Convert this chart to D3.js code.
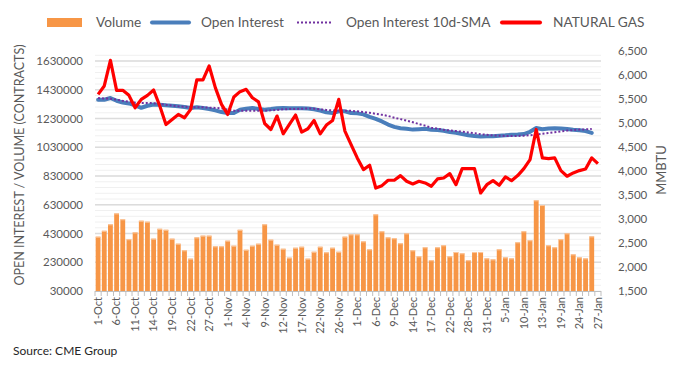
<!DOCTYPE html>
<html>
<head>
<meta charset="utf-8">
<script src="https://cdn.jsdelivr.net/npm/d3@7"></script>
<style>
  body { margin: 0; background: #fff; }
  text { font-family: Lato, "Open Sans", sans-serif; fill: #595959; }
</style>
</head>
<body>
<svg id="chart" width="677" height="370"></svg>
<script>
// trading days shown on the category axis
const dates = ['1-Oct','4-Oct','5-Oct','6-Oct','7-Oct','8-Oct','11-Oct','12-Oct','13-Oct','14-Oct','15-Oct',
  '18-Oct','19-Oct','20-Oct','21-Oct','22-Oct','25-Oct','26-Oct','27-Oct','28-Oct','29-Oct',
  '1-Nov','2-Nov','3-Nov','4-Nov','5-Nov','8-Nov','9-Nov','10-Nov','11-Nov','12-Nov',
  '15-Nov','16-Nov','17-Nov','18-Nov','19-Nov','22-Nov','23-Nov','24-Nov','26-Nov','29-Nov','30-Nov',
  '1-Dec','2-Dec','3-Dec','6-Dec','7-Dec','8-Dec','9-Dec','10-Dec','13-Dec','14-Dec','15-Dec','16-Dec','17-Dec',
  '20-Dec','21-Dec','22-Dec','23-Dec','27-Dec','28-Dec','29-Dec','30-Dec','31-Dec',
  '3-Jan','4-Jan','5-Jan','6-Jan','7-Jan','10-Jan','11-Jan','12-Jan','13-Jan','14-Jan',
  '18-Jan','19-Jan','20-Jan','21-Jan','24-Jan','25-Jan','26-Jan','27-Jan'];

const volume = [408000,449000,494000,570000,529000,390000,438000,519000,512000,394000,463000,
  456000,394000,359000,313000,255000,403000,415000,415000,341000,341000,
  380000,345000,456000,317000,345000,359000,494000,387000,352000,324000,
  262000,331000,338000,255000,303000,338000,299000,331000,303000,408000,424000,
  424000,375000,320000,563000,445000,403000,397000,362000,431000,313000,271000,334000,244000,
  334000,348000,271000,301000,292000,244000,301000,301000,257000,
  250000,320000,264000,257000,369000,445000,383000,661000,628000,348000,
  334000,390000,431000,285000,264000,257000,410000,null];

const openInterest = [1361000,1361000,1373000,1354000,1342000,1335000,1322000,1305000,1319000,1328000,1326000,
  1322000,1319000,1315000,1310000,1303000,1308000,1303000,1296000,1287000,1275000,
  1268000,1268000,1291000,1298000,1303000,1296000,1291000,1296000,1302000,1303000,
  1301000,1301000,1301000,1300000,1295000,1286000,1273000,1268000,1280000,1280000,1268000,
  1266000,1259000,1242000,1228000,1210000,1188000,1172000,1163000,1159000,1153000,1156000,1159000,1152000,
  1150000,1145000,1136000,1131000,1122000,1114000,1108000,1105000,1106000,
  1106000,1110000,1113000,1117000,1119000,1122000,1138000,1164000,1155000,1160000,
  1162000,1160000,1157000,1152000,1148000,1143000,1130000,null];

const oiSma = [1373000,1370000,1368000,1362000,1353000,1347000,1341000,1338000,1338000,1337000,1331000,
  1326000,1320000,1315000,1312000,1309000,1308000,1308000,1306000,1304000,1301000,
  1292000,1285000,1284000,1284000,1284000,1284000,1284000,1287000,1290000,1294000,
  1296000,1297000,1298000,1300000,1299000,1294000,1290000,1286000,1284000,1284000,1284000,
  1280000,1276000,1270000,1263000,1256000,1248000,1236000,1226000,1215000,1204000,1192000,1181000,1166000,
  1160000,1152000,1147000,1143000,1138000,1133000,1128000,1121000,1117000,
  1113000,1111000,1109000,1108000,1109000,1111000,1114000,1118000,1124000,1129000,
  1135000,1141000,1146000,1150000,1153000,1155000,1157000,null];

const gasPrice = [5597,5772,6307,5680,5680,5576,5318,5492,5576,5688,5354,
  4969,5074,5178,5109,5283,5897,5897,6190,5736,5387,
  5178,5542,5653,5701,5527,5440,4990,4865,5145,4775,
  4969,5166,4810,4880,5053,4775,4957,5053,5492,4831,4551,
  4273,4029,4121,3646,3695,3807,3807,3904,3786,3730,3786,3751,3682,
  3835,3855,3945,3715,4050,4050,4050,3542,3715,
  3799,3703,3876,3799,3904,4050,4238,4865,4273,4259,
  4273,4008,3891,3960,4008,4043,4273,4154];

const leftTicks = [30000,230000,430000,630000,830000,1030000,1230000,1430000,1630000];
const rightTicks = [1500,2000,2500,3000,3500,4000,4500,5000,5500,6000,6500];

const width = 677;
const height = 370;
const plot = { left: 95, right: 601, top: 51, bottom: 291 };

const svg = d3.select('#chart');
svg.append('rect').attr('width', width).attr('height', height).attr('fill', '#fff');

const x = d3.scaleBand().domain(dates).range([plot.left, plot.right]).paddingInner(0.22).paddingOuter(0.11);
const yL = d3.scaleLinear().domain([30000, 1700000]).range([plot.bottom, plot.top]);
const yR = d3.scaleLinear().domain([1500, 6500]).range([plot.bottom, plot.top]);
const cx = d => x(d) + x.bandwidth() / 2;

// gridlines (minor every 40000, major every 200000)
const minor = d3.range(30000, 1700001, 40000);
svg.append('g').selectAll('line').data(minor).enter().append('line')
  .attr('x1', plot.left).attr('x2', plot.right)
  .attr('y1', d => yL(d)).attr('y2', d => yL(d))
  .attr('stroke', '#f0f0f0').attr('stroke-width', 1);
svg.append('g').selectAll('line').data(leftTicks.slice(1)).enter().append('line')
  .attr('x1', plot.left).attr('x2', plot.right)
  .attr('y1', d => yL(d)).attr('y2', d => yL(d))
  .attr('stroke', '#dcdcdc').attr('stroke-width', 1.5);

// volume bars
const volData = dates.map((d, i) => ({ d, v: volume[i] })).filter(e => e.v != null);
svg.append('g').selectAll('rect')
  .data(volData)
  .enter().append('rect')
    .attr('x', e => x(e.d))
    .attr('y', e => yL(e.v))
    .attr('width', x.bandwidth())
    .attr('height', e => plot.bottom - yL(e.v))
    .attr('fill', '#f79646');
svg.append('g').selectAll('line')
  .data(volData)
  .enter().append('line')
    .attr('x1', e => x(e.d)).attr('x2', e => x(e.d) + x.bandwidth())
    .attr('y1', e => yL(e.v) + 0.5).attr('y2', e => yL(e.v) + 0.5)
    .attr('stroke', '#fbc9a0').attr('stroke-width', 1);

// x axis line and category ticks
svg.append('line')
  .attr('x1', plot.left).attr('x2', plot.right)
  .attr('y1', plot.bottom + 0.5).attr('y2', plot.bottom + 0.5)
  .attr('stroke', '#bfbfbf');
svg.append('g').selectAll('line').data(dates.concat(['end'])).enter().append('line')
  .attr('x1', (d, i) => plot.left + i * x.step()).attr('x2', (d, i) => plot.left + i * x.step())
  .attr('y1', plot.bottom).attr('y2', plot.bottom + 5)
  .attr('stroke', '#bfbfbf');

// lines
const line = (yScale) => d3.line()
  .defined(d => d.v != null)
  .x(d => cx(d.d))
  .y(d => yScale(d.v));

svg.append('path')
  .datum(dates.map((d, i) => ({ d, v: openInterest[i] })))
  .attr('d', line(yL))
  .attr('fill', 'none').attr('stroke', '#4a7ebb').attr('stroke-width', 4)
  .attr('stroke-linejoin', 'round').attr('stroke-linecap', 'round');

svg.append('path')
  .datum(dates.map((d, i) => ({ d, v: oiSma[i] })))
  .attr('d', line(yL))
  .attr('fill', 'none').attr('stroke', '#7030a0').attr('stroke-width', 2)
  .attr('stroke-dasharray', '2,2');

svg.append('path')
  .datum(dates.map((d, i) => ({ d, v: gasPrice[i] })))
  .attr('d', line(yR))
  .attr('fill', 'none').attr('stroke', '#ff0000').attr('stroke-width', 3.2)
  .attr('stroke-linejoin', 'round');

// left axis
const leftAxis = svg.append('g')
  .attr('transform', `translate(${plot.left - 12},0)`)
  .call(d3.axisLeft(yL).tickValues(leftTicks).tickSize(0).tickPadding(0).tickFormat(d3.format('d')));
leftAxis.select('.domain').remove();
leftAxis.selectAll('text').style('font-family', 'Lato, sans-serif').attr('font-size', 11.5).attr('fill', '#595959');

// right axis
const rightAxis = svg.append('g')
  .attr('transform', `translate(${plot.right + 17},0)`)
  .call(d3.axisRight(yR).tickValues(rightTicks).tickSize(0).tickPadding(0).tickFormat(d3.format(',')));
rightAxis.select('.domain').remove();
rightAxis.selectAll('text').style('font-family', 'Lato, sans-serif').attr('font-size', 11.5).attr('fill', '#595959');

// category labels, every third day
svg.append('g').selectAll('text')
  .data(dates.filter((d, i) => i % 3 === 0))
  .enter().append('text')
    .attr('transform', d => `translate(${cx(d)},${plot.bottom + 6}) rotate(-90)`)
    .attr('text-anchor', 'end')
    .attr('dy', '0.35em')
    .attr('font-size', 11)
    .text(d => d);

// axis titles
svg.append('text')
  .attr('transform', 'translate(20,165) rotate(-90)')
  .attr('text-anchor', 'middle').attr('dy', '0.35em')
  .attr('font-size', 12.5)
  .text('OPEN INTEREST / VOLUME (CONTRACTS)');
svg.append('text')
  .attr('transform', 'translate(661,170) rotate(-90)')
  .attr('text-anchor', 'middle').attr('dy', '0.35em')
  .attr('font-size', 13)
  .text('MMBTU');

// legend
const legend = svg.append('g');
legend.append('rect').attr('x', 47).attr('y', 18).attr('width', 35).attr('height', 9).attr('fill', '#f79646');
legend.append('text').attr('x', 96).attr('y', 22.5).attr('dy', '0.35em').attr('font-size', 13.7).text('Volume');
legend.append('line').attr('x1', 152).attr('x2', 189).attr('y1', 22.5).attr('y2', 22.5)
  .attr('stroke', '#4a7ebb').attr('stroke-width', 4).attr('stroke-linecap', 'round');
legend.append('text').attr('x', 201).attr('y', 22.5).attr('dy', '0.35em').attr('font-size', 13.7).text('Open Interest');
legend.append('line').attr('x1', 297).attr('x2', 332).attr('y1', 22.5).attr('y2', 22.5)
  .attr('stroke', '#7030a0').attr('stroke-width', 2).attr('stroke-dasharray', '2,2');
legend.append('text').attr('x', 346).attr('y', 22.5).attr('dy', '0.35em').attr('font-size', 13.7).text('Open Interest 10d-SMA');
legend.append('line').attr('x1', 502).attr('x2', 540).attr('y1', 22.5).attr('y2', 22.5)
  .attr('stroke', '#ff0000').attr('stroke-width', 4).attr('stroke-linecap', 'round');
legend.append('text').attr('x', 553).attr('y', 22.5).attr('dy', '0.35em').attr('font-size', 13.7).text('NATURAL GAS');

// source
svg.append('text').attr('x', 13).attr('y', 351).attr('dy', '0.35em')
  .attr('font-size', 12).style('fill', '#262626').text('Source: CME Group');
</script>
</body>
</html>
